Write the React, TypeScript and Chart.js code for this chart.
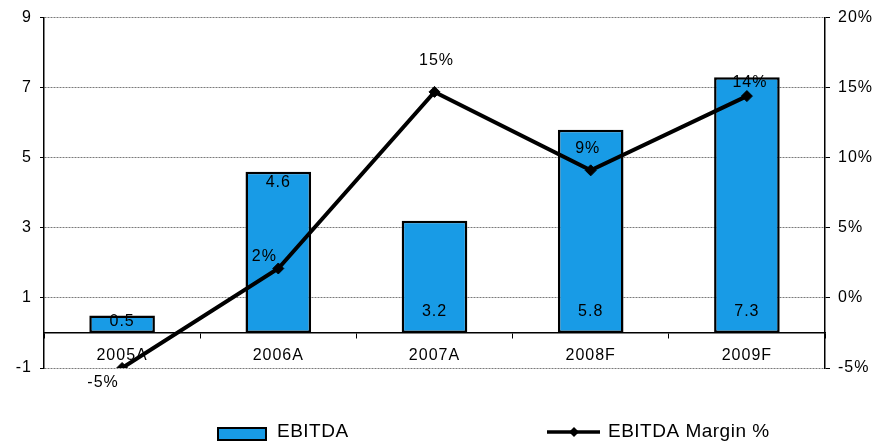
import React, { useEffect, useRef } from "react";
import { Chart, registerables } from "chart.js";

Chart.register(...registerables);

// EBITDA (left axis) and EBITDA margin in % (right axis)
const CATEGORIES = ["2005A", "2006A", "2007A", "2008F", "2009F"];
const EBITDA = [0.5, 4.6, 3.2, 5.8, 7.3];
const MARGIN = [-5.0, 2.1, 14.7, 9.1, 14.4];
const LEFT_TICKS = [-1, 1, 3, 5, 7, 9];
const RIGHT_TICKS = [-5, 0, 5, 10, 15, 20];
const SERIES_NAMES = ["EBITDA", "EBITDA Margin %"];

// where each bar value sits: near the bar top or near its base
const BAR_LABEL_ANCHOR = ["end", "end", "base", "base", "base"];
// offsets of the margin labels from their points
const MARGIN_LABEL_OFFSET: [number, number][] = [
  [-19, 15],
  [-14, -12],
  [2, -31],
  [-3, -22],
  [3, -13],
];

const FONT = "'Liberation Sans', Arial, sans-serif";
const BAR_COLOR = "#189be6";

const valueLabels = {
  id: "valueLabels",
  beforeDraw(chart: any) {
    chart.ctx.letterSpacing = "1px";
  },
  afterDatasetsDraw(chart: any) {
    const ctx = chart.ctx;
    ctx.save();
    ctx.font = `16px ${FONT}`;
    ctx.fillStyle = "#000";
    ctx.textAlign = "center";
    ctx.textBaseline = "middle";
    const barMeta = chart.getDatasetMeta(0);
    barMeta.data.forEach((bar: any, i: number) => {
      const top = Math.min(bar.y, bar.base);
      const base = Math.max(bar.y, bar.base);
      const y =
        BAR_LABEL_ANCHOR[i] === "end"
          ? Math.min(top + 11, (top + base) / 2 - 3)
          : base - 21;
      ctx.fillText(EBITDA[i].toFixed(1), bar.x, y);
    });
    const lineMeta = chart.getDatasetMeta(1);
    lineMeta.data.forEach((pt: any, i: number) => {
      const [dx, dy] = MARGIN_LABEL_OFFSET[i];
      ctx.fillText(`${Math.round(MARGIN[i])}%`, pt.x + dx, pt.y + dy);
    });
    ctx.restore();
  },
  afterDraw(chart: any) {
    // legend row under the plot
    const ctx = chart.ctx;
    ctx.save();
    ctx.letterSpacing = "0.5px";
    ctx.font = `19px ${FONT}`;
    ctx.textBaseline = "middle";
    ctx.textAlign = "left";
    // bar swatch
    ctx.fillStyle = BAR_COLOR;
    ctx.fillRect(218, 428, 48, 12);
    ctx.strokeStyle = "#000";
    ctx.lineWidth = 2;
    ctx.strokeRect(218, 428, 48, 12);
    ctx.fillStyle = "#000";
    ctx.fillText(SERIES_NAMES[0], 277, 432);
    // line swatch
    ctx.beginPath();
    ctx.lineWidth = 3.5;
    ctx.moveTo(547, 432);
    ctx.lineTo(600, 432);
    ctx.stroke();
    ctx.beginPath();
    ctx.moveTo(574, 427);
    ctx.lineTo(579, 432);
    ctx.lineTo(574, 437);
    ctx.lineTo(569, 432);
    ctx.closePath();
    ctx.fill();
    ctx.fillText(SERIES_NAMES[1], 608, 432);
    ctx.restore();
  },
};

export default function App() {
  const ref = useRef<HTMLCanvasElement | null>(null);

  useEffect(() => {
    if (!ref.current) return;
    const chart = new Chart(ref.current, {
      type: "bar",
      data: {
        labels: CATEGORIES,
        datasets: [
          {
            type: "bar",
            label: SERIES_NAMES[0],
            data: EBITDA,
            backgroundColor: BAR_COLOR,
            borderColor: "#000",
            borderWidth: 2.5,
            borderSkipped: false,
            categoryPercentage: 1,
            barPercentage: 0.42,
            yAxisID: "y",
            order: 2,
          },
          {
            type: "line",
            label: SERIES_NAMES[1],
            data: MARGIN,
            borderColor: "#000",
            backgroundColor: "#000",
            borderWidth: 4,
            pointStyle: "rectRot",
            pointRadius: 5.5,
            pointBorderWidth: 1,
            tension: 0,
            yAxisID: "y1",
            order: 1,
          },
        ],
      },
      options: {
        responsive: false,
        animation: false,
        layout: { padding: { top: 13, bottom: 79, left: 0, right: 0 } },
        plugins: {
          legend: { display: false },
          tooltip: { enabled: false },
        },
        scales: {
          x: {
            position: { y: 0 } as any,
            offset: true,
            grid: {
              offset: true,
              drawOnChartArea: false,
              tickLength: 5,
              tickColor: "#000",
              tickWidth: 1,
            },
            border: { color: "#000", width: 1.5 },
            ticks: {
              color: "#000",
              font: { family: FONT, size: 16 },
              padding: 8,
              maxRotation: 0,
            },
          },
          y: {
            position: "left",
            min: -1,
            max: 9,
            afterBuildTicks: (scale: any) => {
              scale.ticks = LEFT_TICKS.map((v) => ({ value: v }));
            },
            afterFit: (scale: any) => {
              scale.width = 44;
            },
            grid: {
              color: "#7a7a7a",
              lineWidth: 1,
              tickLength: 4,
              tickColor: "#000",
            },
            border: { color: "#000", width: 1.5, dash: [2, 1] },
            ticks: {
              color: "#000",
              font: { family: FONT, size: 16 },
              padding: 8,
            },
          },
          y1: {
            position: "right",
            min: -5,
            max: 20,
            afterBuildTicks: (scale: any) => {
              scale.ticks = RIGHT_TICKS.map((v) => ({ value: v }));
            },
            afterFit: (scale: any) => {
              scale.width = 61;
            },
            grid: {
              drawOnChartArea: false,
              tickLength: 5,
              tickColor: "#000",
            },
            border: { color: "#000", width: 1.5 },
            ticks: {
              color: "#000",
              font: { family: FONT, size: 16 },
              padding: 8,
              callback: (v: any) => `${v}%`,
            },
          },
        },
      },
      plugins: [valueLabels],
    });
    return () => chart.destroy();
  }, []);

  return (
    <div style={{ position: "fixed", left: 0, top: 0, width: 886, height: 447, background: "#fff" }}>
      <canvas ref={ref} width={886} height={447} style={{ display: "block" }} />
    </div>
  );
}
